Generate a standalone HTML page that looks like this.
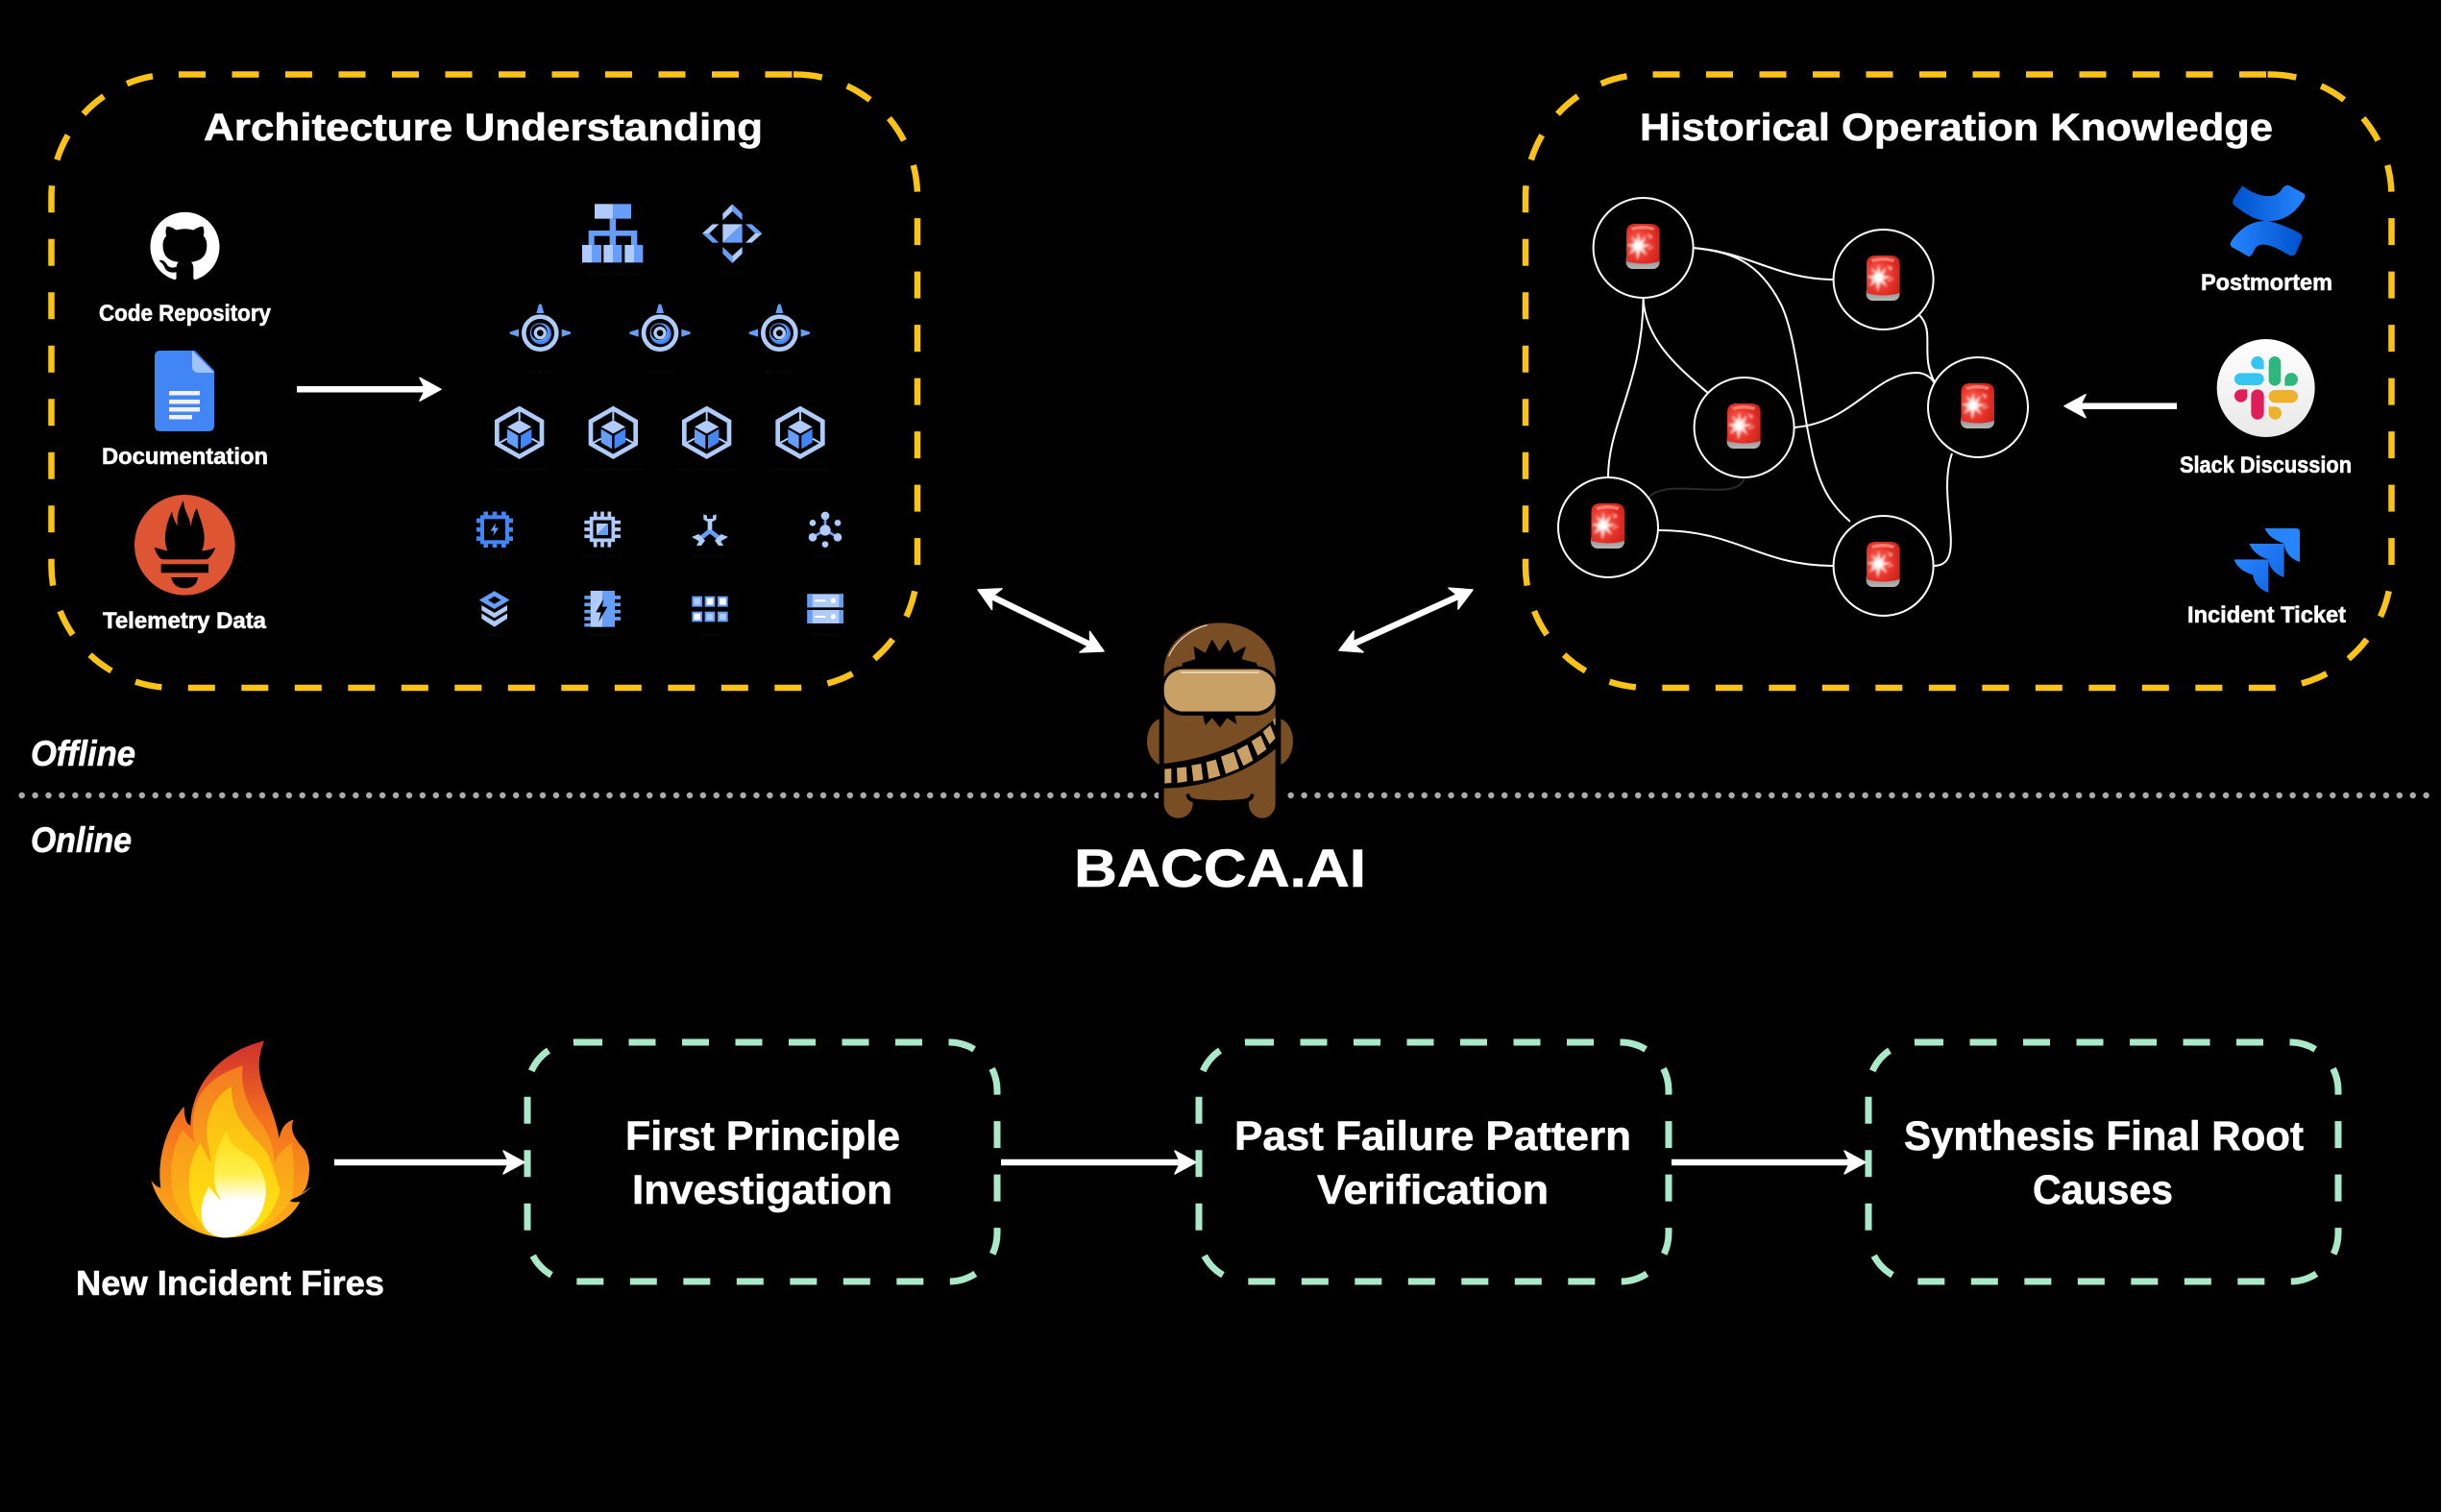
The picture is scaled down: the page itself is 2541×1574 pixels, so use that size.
<!DOCTYPE html>
<html><head><meta charset="utf-8"><title>Bacca.AI diagram</title>
<style>
html,body{margin:0;padding:0;background:#000}
svg{display:block}
text{font-family:"Liberation Sans",sans-serif;font-weight:700;fill:#fff;stroke:#fff;stroke-width:.6px}
.h{font-size:16px;fill:#0e0e0e;stroke:none;font-weight:400;text-anchor:middle}
</style></head><body>
<svg xmlns="http://www.w3.org/2000/svg" width="2541" height="1574" viewBox="0 0 2541 1574">
<defs>
<linearGradient id="fl1" x1="0" y1="0" x2="0" y2="1"><stop offset="0" stop-color="#cf2f2c"/><stop offset=".4" stop-color="#f4701f"/><stop offset="1" stop-color="#fbb117"/></linearGradient>
<linearGradient id="flm" x1="0" y1="0" x2="0" y2="1"><stop offset="0" stop-color="#f47b20"/><stop offset=".5" stop-color="#f9a01b"/><stop offset="1" stop-color="#fcc010"/></linearGradient>
<linearGradient id="fl2" x1="0" y1="0" x2="0" y2="1"><stop offset="0" stop-color="#fbb713"/><stop offset="1" stop-color="#ffe711"/></linearGradient>
<linearGradient id="fl3" x1="0" y1="0" x2="0" y2="1"><stop offset="0" stop-color="#ffd815"/><stop offset=".4" stop-color="#fff04a"/><stop offset=".65" stop-color="#fff"/><stop offset="1" stop-color="#fff"/></linearGradient>
<linearGradient id="cf1" x1="0" y1="0" x2="1" y2="0"><stop offset="0" stop-color="#0052cc"/><stop offset="1" stop-color="#2684ff"/></linearGradient>
<linearGradient id="cf2" x1="1" y1="0" x2="0" y2="0"><stop offset="0" stop-color="#0052cc"/><stop offset="1" stop-color="#2684ff"/></linearGradient>
<linearGradient id="jr" x1="0" y1="0" x2="1" y2="1"><stop offset="0" stop-color="#2684ff"/><stop offset="1" stop-color="#1668e3"/></linearGradient>
<linearGradient id="sl" x1="0" y1="0" x2="0" y2="1"><stop offset="0" stop-color="#fff"/><stop offset="1" stop-color="#e8e8e8"/></linearGradient>
<linearGradient id="ab" x1="0" y1="0" x2="0" y2="1"><stop offset="0" stop-color="#777"/><stop offset="1" stop-color="#b8b8b8"/></linearGradient>
<radialGradient id="al" cx=".35" cy=".5" r=".75"><stop offset="0" stop-color="#ff7060"/><stop offset=".55" stop-color="#e8332a"/><stop offset="1" stop-color="#c8221a"/></radialGradient>
<filter id="bl" x="-30%" y="-30%" width="160%" height="160%"><feGaussianBlur stdDeviation="1"/></filter>
<g id="alarm">
<rect x="-18" y="6" width="35" height="16" rx="7" fill="url(#ab)"/>
<path d="M-17.500,14 V-16 Q-17.500,-25 -8,-25 H7 Q17,-25 17,-16 V14 Q0,19 -17.500,14Z" fill="url(#al)"/>
<path d="M-13,-21 Q0,-25 12,-21 L10,-18 Q0,-21 -11,-18Z" fill="#ff9a8a" opacity=".7"/>
<g filter="url(#bl)">
<path d="M-5,-16 L-3,-7 L3,-13 L0,-4 L9,-3 L0,0 L4,8 L-3,3 L-6,13 L-8,3 L-15,7 L-11,0 L-17,-3 L-9,-5 L-13,-12 L-7,-8Z" fill="#ffd9d4"/>
<circle cx="-5.500" cy="-2" r="4.500" fill="#fff"/>
<path d="M4,-15 L10,-12 L7,-9Z M4,1 L11,-2 L10,0 L5,2Z" fill="#ffb0a4"/>
</g>
</g>
<g id="head"><polygon points="0,0 -22,-12 -16,0 -22,12" fill="#fff" stroke="#fff" stroke-width="1.500" stroke-linejoin="round"/></g>
<g id="ae">
<circle r="51" fill="none" stroke="#aecbfa" stroke-width="14"/>
<circle cx="2" cy="2" r="33" fill="#4285f4"/>
<circle cx="-2" cy="-2" r="29" fill="#669df6"/>
<circle cx="-3" cy="-3" r="25" fill="#000"/>
<circle r="20" fill="#aecbfa"/><circle r="10" fill="#000"/>
<path d="M-12,-62 L-4,-90 L4,-90 L12,-62Z" fill="#669df6"/>
<path d="M-67,-12 L-95,-3 L-95,3 L-67,12Z" fill="#669df6"/>
<path d="M67,-12 L95,-3 L95,3 L67,12Z" fill="#669df6"/>
</g>
<g id="gke">
<polygon points="0,-74 70,-34 70,36 0,76 -70,36 -70,-34" fill="none" stroke="#aecbfa" stroke-width="14"/>
<path d="M0,-74 V-38 M-38,20 L-68,36 M38,20 L68,36" stroke="#aecbfa" stroke-width="6" fill="none"/>
<polygon points="0,-38 38,-17 0,4 -38,-17" fill="#aecbfa"/>
<polygon points="-38,-10 -4,10 -4,52 -38,32" fill="#669df6"/>
<polygon points="4,10 38,-10 38,32 4,52" fill="#4285f4"/>
</g>
<path id="yb" d="M828,77.500 A127,127 0 0 1 955,204.500 V589 A127,127 0 0 1 828,716 H180.500 A127,127 0 0 1 53.500,589 V204.500 A127,127 0 0 1 180.500,77.500 H186"/>
<path id="gb" d="M599,1085 H988 A50,50 0 0 1 1038,1135 V1284 A50,50 0 0 1 988,1334 H599 A50,50 0 0 1 549,1284 V1135 A50,50 0 0 1 599,1085Z"/>
</defs>
<rect width="2541" height="1574" fill="#000"/>

<!-- yellow containers -->
<g fill="none" stroke="#fbc318" stroke-width="6.500" stroke-dasharray="28 27.500">
<path d="M186,77.500 H826"/><path d="M826,77.500 H828" stroke-dasharray="none"/><use href="#yb"/>
<g transform="translate(1534.500,0)"><path d="M186,77.500 H826"/><path d="M826,77.500 H828" stroke-dasharray="none"/><use href="#yb"/></g>
</g>

<!-- titles -->
<text x="212" y="146" font-size="40" textLength="582" lengthAdjust="spacingAndGlyphs">Architecture Understanding</text>
<text x="1707" y="146" font-size="40" textLength="659" lengthAdjust="spacingAndGlyphs">Historical Operation Knowledge</text>

<!-- github -->
<g transform="translate(156.500,220) scale(3)">
<path fill="#fff" d="M12 .297c-6.630 0-12 5.373-12 12 0 5.303 3.438 9.800 8.205 11.385.600.113.820-.258.820-.577 0-.285-.010-1.040-.015-2.040-3.338.724-4.042-1.610-4.042-1.610C4.422 18.070 3.633 17.700 3.633 17.700c-1.087-.744.084-.729.084-.729 1.205.084 1.838 1.236 1.838 1.236 1.070 1.835 2.809 1.305 3.495.998.108-.776.417-1.305.760-1.605-2.665-.300-5.466-1.332-5.466-5.930 0-1.310.465-2.380 1.235-3.220-.135-.303-.540-1.523.105-3.176 0 0 1.005-.322 3.300 1.230.960-.267 1.980-.399 3-.405 1.020.006 2.040.138 3 .405 2.280-1.552 3.285-1.230 3.285-1.230.645 1.653.240 2.873.120 3.176.765.840 1.230 1.910 1.230 3.220 0 4.610-2.805 5.625-5.475 5.920.420.360.810 1.096.810 2.220 0 1.606-.015 2.896-.015 3.286 0 .315.210.690.825.570C20.565 22.092 24 17.592 24 12.297c0-6.627-5.373-12-12-12"/>
</g>
<text x="103" y="334" font-size="24" textLength="179" lengthAdjust="spacingAndGlyphs">Code Repository</text>

<!-- docs -->
<path d="M167,365 H203 L223,386 V443 Q223,449 217,449 H167 Q161,449 161,443 V371 Q161,365 167,365Z" fill="#4285f4"/>
<path d="M200,365 L223,388 H207 Q200,388 200,381Z" fill="#a1c2fa"/>
<g fill="#f1f1f1"><rect x="176" y="407" width="32" height="4.500"/><rect x="176" y="416" width="32" height="4.500"/><rect x="176" y="424" width="32" height="4.500"/><rect x="176" y="432" width="24" height="4.500"/></g>
<text x="106" y="483" font-size="24" textLength="173" lengthAdjust="spacingAndGlyphs">Documentation</text>

<!-- prometheus -->
<g transform="translate(130,505) scale(.33333)">
<circle cx="187" cy="187" r="157" fill="#dd5533"/>
<path d="M92,195 C110,198 125,205 133,205 C120,170 125,130 147,82 C150,105 160,120 165,128 C160,100 170,70 183,48 C185,85 205,100 205,130 C210,110 215,85 225,72 C232,100 248,130 248,165 C248,180 245,195 240,205 C255,205 270,200 283,195 C275,215 265,228 255,232 H118 C105,228 97,212 92,195Z" fill="#000"/>
<rect x="113" y="247" width="148" height="27" fill="#000"/>
<path d="M145,288 H228 C226,310 210,322 187,322 C165,322 148,310 145,288Z" fill="#000"/>
</g>
<text x="107" y="654" font-size="24" textLength="170" lengthAdjust="spacingAndGlyphs">Telemetry Data</text>

<!-- left arrow -->
<rect x="309" y="402" width="135" height="6.500" fill="#fff"/>
<use href="#head" transform="translate(459,405.250)"/>

<!-- GCP icons -->
<g transform="translate(460,190) scale(.33333)">
<!-- LB -->
<rect x="477" y="67" width="57" height="46" fill="#aecbfa"/><rect x="534" y="67" width="57" height="46" fill="#669df6"/>
<path d="M524,113 h19 v37 h67 v45 h-19 v-28 h-48 v28 h-19 v-28 h-48 v28 h-18 v-45 h66Z" fill="#669df6"/>
<g><rect x="438" y="195" width="30" height="55" fill="#aecbfa"/><rect x="468" y="195" width="30" height="55" fill="#669df6"/>
<rect x="505" y="195" width="29" height="55" fill="#aecbfa"/><rect x="534" y="195" width="28" height="55" fill="#669df6"/>
<rect x="571" y="195" width="29" height="55" fill="#aecbfa"/><rect x="600" y="195" width="28" height="55" fill="#669df6"/></g>
<text class="h" x="533" y="290">Cloud Load Balancing</text>
<!-- CDN -->
<polygon points="877,130 938,130 877,188" fill="#aecbfa"/><polygon points="938,130 938,188 877,188" fill="#669df6"/>
<polygon points="907,67 938,97 938,118 907,90" fill="#669df6"/><polygon points="907,67 877,97 877,118 907,90" fill="#aecbfa"/>
<polygon points="907,252 938,222 938,201 907,229" fill="#aecbfa"/><polygon points="907,252 877,222 877,201 907,229" fill="#669df6"/>
<polygon points="813,159 845,130 865,130 835,159" fill="#aecbfa"/><polygon points="813,159 845,188 865,188 835,159" fill="#669df6"/>
<polygon points="1000,159 968,130 948,130 978,159" fill="#669df6"/><polygon points="1000,159 968,188 948,188 978,159" fill="#aecbfa"/>
<text class="h" x="907" y="290">Cloud CDN</text>
<!-- App Engine -->
<use href="#ae" transform="translate(307,470)"/><use href="#ae" transform="translate(681,470)"/><use href="#ae" transform="translate(1054,470)"/>
<text class="h" x="307" y="597">App Engine</text><text class="h" x="681" y="597">App Engine</text><text class="h" x="1054" y="597">App Engine</text>
<!-- GKE -->
<use href="#gke" transform="translate(242,780)"/><use href="#gke" transform="translate(535,780)"/><use href="#gke" transform="translate(827,780)"/><use href="#gke" transform="translate(1119,780)"/>
<text class="h" x="242" y="900">Google Kubernetes Engine</text><text class="h" x="535" y="900">Google Kubernetes Engine</text><text class="h" x="827" y="900">Google Kubernetes Engine</text><text class="h" x="1119" y="900">Google Kubernetes Engine</text>
<!-- GPU -->
<rect x="126" y="1045" width="78" height="78" fill="none" stroke="#4285f4" stroke-width="12"/>
<path d="M137,1028 v17 M165,1028 v17 M193,1028 v17 M137,1123 v17 M165,1123 v17 M193,1123 v17 M108,1056 h18 M108,1084 h18 M108,1112 h18 M204,1056 h18 M204,1084 h18 M204,1112 h18" stroke="#4285f4" stroke-width="14"/>
<polygon points="168,1063 152,1088 163,1088 160,1104 177,1079 166,1079" fill="#669df6"/>
<text class="h" x="165" y="1172">Cloud GPUs</text>
<!-- Compute -->
<rect x="467" y="1049" width="68" height="68" fill="none" stroke="#aecbfa" stroke-width="11"/>
<path d="M479,1028 v16 M501,1028 v16 M523,1028 v16 M479,1122 v17 M501,1122 v17 M523,1122 v17 M445,1061 h17 M445,1083 h17 M445,1105 h17 M540,1061 h18 M540,1083 h18 M540,1105 h18" stroke="#aecbfa" stroke-width="11"/>
<polygon points="483,1065 519,1065 483,1101" fill="#aecbfa"/><polygon points="519,1065 519,1101 483,1101" fill="#669df6"/>
<text class="h" x="501" y="1172">Compute Engine</text>
<!-- Spanner -->
<path d="M837,1050 V1088" stroke="#aecbfa" stroke-width="14" fill="none"/>
<path d="M817,1036 V1052 Q837,1068 857,1052 V1036 L846,1040 V1050 H828 V1040Z" fill="#aecbfa"/>
<path d="M837,1088 L800,1117" stroke="#669df6" stroke-width="14"/><path d="M837,1088 L874,1117" stroke="#669df6" stroke-width="14"/>
<path d="M780,1107 L802,1098 L822,1118 L810,1134 L795,1134 L803,1120 Z" fill="#aecbfa"/>
<path d="M894,1107 L872,1098 L852,1118 L864,1134 L879,1134 L871,1120 Z" fill="#aecbfa"/>
<text class="h" x="837" y="1172">Cloud Spanner</text>
<!-- Pubsub -->
<path d="M1197,1085 L1197,1040 M1197,1085 L1158,1108 M1197,1085 L1236,1108" stroke="#669df6" stroke-width="8"/>
<circle cx="1197" cy="1086" r="17" fill="#aecbfa"/><circle cx="1197" cy="1041" r="13" fill="#aecbfa"/>
<circle cx="1158" cy="1063" r="10" fill="#aecbfa"/><circle cx="1236" cy="1063" r="10" fill="#aecbfa"/>
<circle cx="1158" cy="1108" r="13" fill="#aecbfa"/><circle cx="1236" cy="1108" r="13" fill="#aecbfa"/><circle cx="1197" cy="1130" r="10" fill="#aecbfa"/>
<text class="h" x="1197" y="1172">Pub/Sub</text>
<!-- SQL -->
<polygon points="164,1284 198,1304 164,1324 130,1304" fill="none" stroke="#669df6" stroke-width="14"/>
<path d="M124,1320 L164,1344 L204,1320 V1336 L164,1360 L124,1336Z" fill="#aecbfa"/>
<path d="M124,1346 L164,1370 L204,1346 V1362 L164,1388 L124,1362Z" fill="#aecbfa"/>
<text class="h" x="164" y="1418">Cloud SQL</text>
<!-- Memorystore -->
<path d="M445,1296 h19 M445,1318 h19 M445,1340 h19 M445,1362 h19 M445,1382 h19 M540,1296 h18 M540,1318 h18 M540,1340 h18 M540,1362 h18" stroke="#669df6" stroke-width="11"/>
<rect x="464" y="1275" width="37" height="113" fill="#aecbfa"/><rect x="501" y="1275" width="39" height="113" fill="#669df6"/>
<polygon points="505,1300 481,1342 497,1342 489,1372 517,1325 501,1325" fill="#000"/>
<text class="h" x="501" y="1418">Memorystore</text>
<!-- Datastore -->
<g fill="#669df6"><rect x="781" y="1292" width="32" height="33"/><rect x="821" y="1292" width="32" height="33"/><rect x="861" y="1292" width="32" height="33"/><rect x="781" y="1340" width="32" height="32"/><rect x="821" y="1340" width="32" height="32"/><rect x="861" y="1340" width="32" height="32"/></g>
<rect x="787" y="1298" width="20" height="21" fill="#aecbfa"/><rect x="827" y="1298" width="20" height="21" fill="#fff"/><rect x="867" y="1298" width="20" height="21" fill="#fff"/>
<rect x="787" y="1346" width="20" height="20" fill="#fff"/><rect x="827" y="1346" width="20" height="20" fill="#aecbfa"/><rect x="867" y="1346" width="20" height="20" fill="#aecbfa"/>
<text class="h" x="837" y="1418">Datastore</text>
<!-- Storage -->
<g><rect x="1141" y="1285" width="113" height="42" fill="#aecbfa"/><rect x="1141" y="1285" width="16" height="42" fill="#669df6"/><rect x="1240" y="1285" width="14" height="42" fill="#669df6"/>
<rect x="1141" y="1335" width="113" height="42" fill="#aecbfa"/><rect x="1141" y="1335" width="16" height="42" fill="#669df6"/><rect x="1240" y="1335" width="14" height="42" fill="#669df6"/>
<rect x="1165" y="1303" width="33" height="6" fill="#fff"/><circle cx="1222" cy="1306" r="8" fill="#fff"/>
<rect x="1165" y="1353" width="33" height="6" fill="#fff"/><circle cx="1222" cy="1356" r="8" fill="#fff"/></g>
<text class="h" x="1197" y="1418">Cloud Storage</text>
</g>

<!-- graph edges -->
<g fill="none" stroke="#fff" stroke-width="2">
<path d="M1762,258 C1820,262 1850,291 1909,291"/>
<path d="M1762,258 C1800,262 1830,270 1854,317 C1870,350 1875,420 1885,464 C1893,505 1905,525 1926,543"/>
<path d="M1710.600,310 C1710,400 1674,440 1674,497"/>
<path d="M1710.600,310 C1712,355 1750,385 1779,410"/>
<path d="M1998,328 C2015,345 1998,370 2014,398"/>
<path d="M1868,445 C1930,440 1950,388 1995,388 C2005,388 2012,395 2013,398"/>
<path d="M2032,472 C2015,520 2050,589 2013,589"/>
<path d="M1726,552 C1810,552 1830,589 1909,589"/>
</g>
<path d="M1716,518 C1735,495 1810,525 1816,497" fill="none" stroke="#2a2a2a" stroke-width="2"/>
<!-- nodes -->
<g fill="#000" stroke="#fff" stroke-width="2">
<circle cx="1710.600" cy="258" r="52"/><circle cx="1960.600" cy="291" r="52"/><circle cx="1815.600" cy="445" r="52"/><circle cx="2059" cy="424" r="52"/><circle cx="1674" cy="549" r="52"/><circle cx="1960.600" cy="589" r="52"/>
</g>
<use href="#alarm" transform="translate(1710.600,258)"/><use href="#alarm" transform="translate(1960.600,291)"/><use href="#alarm" transform="translate(1815.600,445)"/><use href="#alarm" transform="translate(2059,424)"/><use href="#alarm" transform="translate(1674,549)"/><use href="#alarm" transform="translate(1960.600,589)"/>

<!-- right arrow -->
<rect x="2165" y="419.500" width="101" height="6.500" fill="#fff"/>
<use href="#head" transform="translate(2149,422.750) rotate(180)"/>

<!-- brand icons -->
<g transform="translate(2240,170) scale(.33333)">
<path d="M282,70 C325,102 380,118 405,82 C412,72 420,66 430,70 L472,93 C482,100 478,108 472,116 C445,160 405,185 350,180 C310,172 282,150 258,132 C250,124 252,116 258,106 Z" fill="url(#cf1)"/>
<path d="M300,290 C275,275 262,268 250,262 C243,256 245,248 250,240 C275,205 310,178 360,180 C400,188 440,205 464,220 C472,226 470,234 466,243 L450,280 C445,290 436,290 428,286 C395,268 350,240 325,262 C318,272 312,296 300,290Z" fill="url(#cf2)"/>
<circle cx="356" cy="702" r="153" fill="url(#sl)"/>
<g>
<rect x="258" y="655" width="92" height="38" rx="19" fill="#36c5f0"/><path d="M330,603 a20,20 0 0 1 20,20 v20 h-20 a20,20 0 0 1 0,-40Z" fill="#36c5f0"/>
<rect x="365" y="603" width="38" height="92" rx="19" fill="#2eb67d"/><path d="M456,675 a20,20 0 0 1 -20,20 h-21 v-20 a20,20 0 0 1 41,0Z" fill="#2eb67d"/>
<path d="M258,726 a20,20 0 0 1 20,-20 h20 v20 a20,20 0 0 1 -40,0Z" fill="#e01e5a"/><rect x="310" y="706" width="40" height="94" rx="20" fill="#e01e5a"/>
<rect x="365" y="708" width="91" height="40" rx="20" fill="#ecb22e"/><path d="M365,760 h20 a20,20 0 0 1 0,40 a20,20 0 0 1 -20,-20Z" fill="#ecb22e"/>
</g>
<path d="M353,1140 H450 Q462,1140 462,1152 V1245 C430,1235 415,1210 413,1188 C395,1180 365,1170 353,1140Z" fill="#2684ff"/>
<path d="M305,1188 H413 V1293 C385,1283 366,1262 364,1237 C340,1230 315,1215 305,1188Z" fill="url(#jr)"/>
<path d="M257,1237 H364 V1341 C335,1330 318,1308 316,1285 C290,1278 265,1262 257,1237Z" fill="url(#jr)"/>
</g>
<text x="2291" y="302" font-size="24" textLength="137" lengthAdjust="spacingAndGlyphs">Postmortem</text>
<text x="2269" y="492" font-size="24" textLength="179" lengthAdjust="spacingAndGlyphs">Slack Discussion</text>
<text x="2277" y="648" font-size="24" textLength="165" lengthAdjust="spacingAndGlyphs">Incident Ticket</text>

<!-- double arrows -->
<g transform="translate(1018,614) rotate(26)"><rect x="16" y="-3.250" width="114" height="6.500" fill="#fff"/><use href="#head" transform="translate(145.800,0)"/><use href="#head" transform="rotate(180)"/></g>
<g transform="translate(1533,614) rotate(155.600)"><rect x="16" y="-3.250" width="121" height="6.500" fill="#fff"/><use href="#head" transform="translate(152.600,0)"/><use href="#head" transform="rotate(180)"/></g>

<!-- dotted divider -->
<g stroke="#aaa" stroke-width="6.500" stroke-linecap="round" stroke-dasharray="0 13.905" fill="none">
<path d="M22.700,828 H1206"/><path d="M1343.700,828 H2530"/>
</g>
<text x="32" y="797" font-size="37" font-style="italic" textLength="109" lengthAdjust="spacingAndGlyphs">Offline</text>
<text x="32" y="887" font-size="37" font-style="italic" textLength="105" lengthAdjust="spacingAndGlyphs">Online</text>

<!-- character -->
<g transform="translate(1190,640) scale(.33333)">
<rect x="48" y="500" width="17" height="110" fill="#000"/>
<path d="M50,325 C25,335 12,365 12,395 C12,425 25,455 50,468Z" fill="#7a4e24"/>
<path d="M430,325 C455,335 468,365 468,395 C468,425 455,455 430,468Z" fill="#7a4e24"/>
<path d="M65,170 C70,90 140,25 240,25 C340,25 410,90 413,170 V590 C413,615 395,635 372,635 C348,635 330,615 330,590 V585 H155 V590 C155,615 135,635 110,635 C85,635 65,615 65,590Z" fill="#7a4e24"/>
<path d="M140,565 C145,585 175,582 240,586 C305,582 335,585 340,565" fill="none" stroke="#000" stroke-width="12" stroke-linecap="round"/>
<path d="M125,152 L165,140 L160,102 L195,122 L215,80 L238,118 L265,80 L282,122 L318,102 L305,140 L352,152 L360,175 L120,175Z" fill="#000" stroke="#000" stroke-width="4" stroke-linejoin="round"/>
<path d="M80,130 C100,82 150,45 200,32" fill="none" stroke="#f5e6d3" stroke-width="3"/>
<path d="M185,305 L190,330 L195,345 L215,322 L240,352 L262,322 L292,342 L285,305Z" fill="#000"/>
<path d="M65,465 C190,450 320,410 418,318 V415 C330,490 200,540 65,542Z" fill="#000"/>
<rect x="55" y="160" width="368" height="155" rx="72" fill="#000"/>
<rect x="65" y="170" width="348" height="132" rx="60" fill="#c9a066"/>
<path d="M118,180 H362" stroke="#fff" stroke-width="3" fill="none"/>
<g fill="#c9a066">
<polygon points="67,482 88,480 88,525 67,527"/>
<polygon points="105,478 135,475 137,520 107,525"/>
<polygon points="151,470 181,465 187,515 157,520"/>
<polygon points="197,460 227,452 241,503 205,513"/>
<polygon points="243,443 283,428 300,480 258,497"/>
<polygon points="292,423 325,405 343,455 313,472"/>
<polygon points="338,395 367,377 385,420 358,440"/>
<polygon points="374,365 397,345 413,385 395,405"/>
<polygon points="405,330 413,320 413,345 410,345"/>
</g>
</g>
<text x="1118" y="923" font-size="56" textLength="304" lengthAdjust="spacingAndGlyphs">BACCA.AI</text>

<!-- flame -->
<g transform="translate(140,1075) scale(.33333)">
<path d="M405,25 C380,90 385,140 420,220 C435,260 445,290 452,330 C458,300 470,280 497,272 C480,310 510,340 530,365 C548,395 550,430 540,470 C535,490 525,500 517,505 L552,482 C530,505 505,515 482,525 C495,530 505,530 517,528 C480,600 380,640 280,640 C170,635 80,560 52,462 C65,478 72,482 82,485 C70,400 95,300 155,230 C155,260 160,285 175,290 C175,200 230,70 405,25Z" fill="url(#fl1)"/>
<path d="M338,103 C265,125 205,170 190,230 C180,270 180,320 190,345 L150,305 C120,350 105,430 120,500 C140,580 200,630 280,640 C360,640 440,600 490,520 C500,470 500,400 490,345 C470,360 445,380 435,410 C440,350 410,300 385,270 C350,220 330,170 338,103Z" fill="url(#flm)"/>
<path d="M303,168 C255,195 222,250 226,320 C230,360 238,390 240,410 L205,345 C170,400 160,470 180,540 C200,600 240,640 280,640 C350,638 430,600 455,490 C440,450 430,400 410,370 C370,320 300,270 303,168Z" fill="url(#fl2)"/>
<path d="M290,305 C255,350 245,420 250,470 C255,500 265,510 272,528 L232,480 C210,520 200,570 220,610 C240,635 265,640 280,640 C340,640 395,600 410,510 C415,460 395,420 370,395 C330,365 290,350 290,305Z" fill="url(#fl3)"/>
</g>
<text x="79" y="1348" font-size="36" textLength="321" lengthAdjust="spacingAndGlyphs">New Incident Fires</text>

<!-- green boxes -->
<g fill="none" stroke="#a9e9c9" stroke-width="7" stroke-dasharray="28 27.500">
<use href="#gb"/><use href="#gb" transform="translate(699,0)"/><use href="#gb" transform="translate(1396,0)"/>
</g>
<text x="651" y="1197" font-size="43" textLength="286" lengthAdjust="spacingAndGlyphs">First Principle</text>
<text x="658" y="1253" font-size="43" textLength="271" lengthAdjust="spacingAndGlyphs">Investigation</text>
<text x="1285" y="1197" font-size="43" textLength="413" lengthAdjust="spacingAndGlyphs">Past Failure Pattern</text>
<text x="1371" y="1253" font-size="43" textLength="241" lengthAdjust="spacingAndGlyphs">Verification</text>
<text x="1982" y="1197" font-size="43" textLength="416" lengthAdjust="spacingAndGlyphs">Synthesis Final Root</text>
<text x="2116" y="1253" font-size="43" textLength="146" lengthAdjust="spacingAndGlyphs">Causes</text>

<!-- flow arrows -->
<g fill="#fff">
<rect x="348" y="1206.750" width="184" height="6.500"/><use href="#head" transform="translate(546,1210)"/>
<rect x="1042" y="1206.750" width="188" height="6.500"/><use href="#head" transform="translate(1245,1210)"/>
<rect x="1740" y="1206.750" width="187" height="6.500"/><use href="#head" transform="translate(1942,1210)"/>
</g>
</svg>
</body></html>
